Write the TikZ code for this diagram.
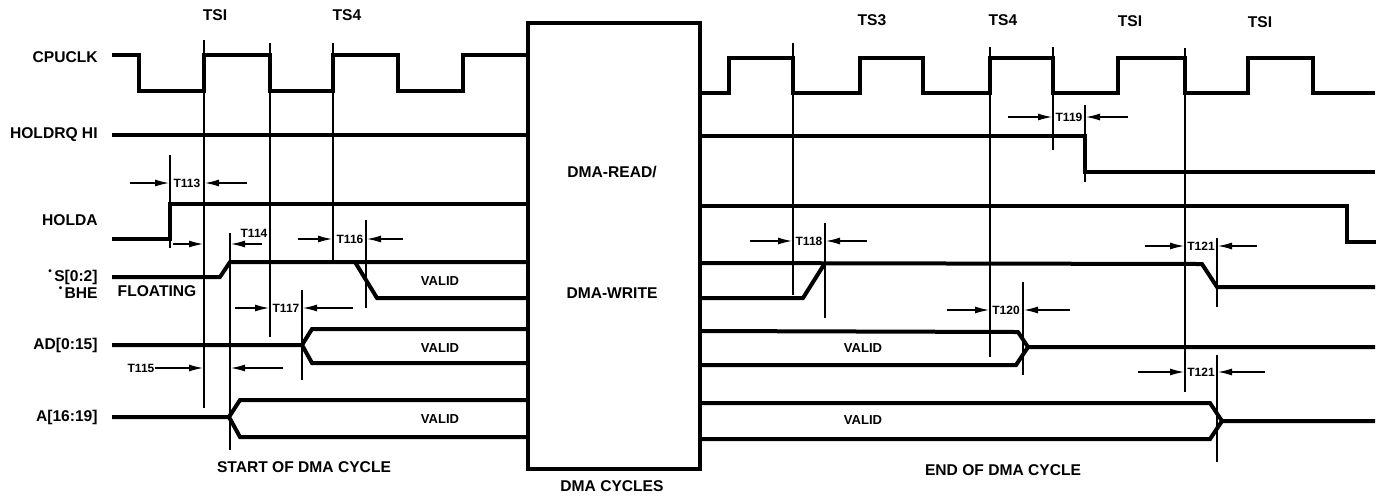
\documentclass[tikz,border=0pt]{standalone}
\usepackage{fontspec}
\setmainfont{Liberation Sans}
\usetikzlibrary{arrows.meta}

\begin{document}
\begin{tikzpicture}[x=0.5pt,y=-0.5pt,
  sig/.style={line width=2pt,line join=miter},
  tick/.style={line width=0.6pt},
  dim/.style={line width=0.6pt,-{Latex[length=7pt,width=3.5pt]}},
  sname/.style={font=\fontsize{7.8}{8}\selectfont\bfseries,anchor=east,inner sep=0pt},
  big/.style={font=\fontsize{7.8}{8}\selectfont\bfseries,inner sep=0pt},
  tlab/.style={font=\fontsize{6}{6}\selectfont\bfseries,inner sep=0pt},
  val/.style={font=\fontsize{6.5}{7}\selectfont\bfseries,inner sep=0pt}]
\useasboundingbox (0,0) rectangle (1378,495);
\path (98,57) node(lclk)[sname]{CPUCLK}
(98,135) node(lhrq)[sname]{HOLDRQ HI}
(98,220) node(lhda)[sname]{HOLDA}
(98,277) node(ls)[sname]{\raisebox{.45em}{\tiny\textbullet}\kern1.2pt S[0:2]}
(98,293) node(lbhe)[sname]{\raisebox{.45em}{\tiny\textbullet}\kern1.2pt BHE}
(98,345) node(lad)[sname]{AD[0:15]}
(98,417) node(la)[sname]{A[16:19]}
(157,291) node(flt)[big]{FLOATING}
(215,15) node(ts1a)[big]{TSI}
(347,15) node(ts4a)[big]{TS4}
(872,20) node(ts3b)[big]{TS3}
(1003,20) node(ts4b)[big]{TS4}
(1130,21) node(ts1b)[big]{TSI}
(1260,22) node(ts1c)[big]{TSI}
(614,246) node(dma)[draw,line width=2pt,minimum width=86pt,minimum height=223pt]{}
(612,172) node(rd)[big]{DMA-READ/}
(612,293) node(wr)[big]{DMA-WRITE}
(612,486) node(cyc)[big]{DMA CYCLES}
(304,467) node(start)[big]{START OF DMA CYCLE}
(1003,470) node(end)[big]{END OF DMA CYCLE}
(440,281) node(v1)[val]{VALID}
(440,348) node(v2)[val]{VALID}
(440,419) node(v3)[val]{VALID}
(863,348) node(v4)[val]{VALID}
(863,420) node(v5)[val]{VALID};
% signals before the DMA cycles
\draw[sig] (112,55) -| (139,91) -| (204,55) -| (270,91) -| (333,55) -| (398,91) -| (463,55) -- (dma.west |- 0,55);
\draw[sig] (112,135) -- (dma.west |- 0,135);
\draw[sig] (112,239) -| (170,204) -- (dma.west |- 0,204);
\draw[sig] (112,277) -- (220,277) -- (230,262) -- (dma.west |- 0,262);
\draw[sig] (355,262) -- (377,298) -- (dma.west |- 0,298);
\draw[sig] (112,345) -- (302,345) -- (312,329) -- (dma.west |- 0,329);
\draw[sig] (302,345) -- (312,363) -- (dma.west |- 0,363);
\draw[sig] (112,417) -- (229,417) -- (240,400) -- (dma.west |- 0,400);
\draw[sig] (229,417) -- (240,437) -- (dma.west |- 0,437);
% signals after the DMA cycles
\draw[sig] (dma.east |- 0,93) -| (729,58) -| (793,93) -| (860,58) -| (923,93) -| (990,58) -| (1053,93) -| (1118,58) -| (1185,93) -| (1248,58) -| (1313,93) -- (1375,93);
\draw[sig] (dma.east |- 0,136) -| (1085,172) -- (1375,172);
\draw[sig] (dma.east |- 0,206) -| (1347,242) -- (1376,242);
\draw[sig] (dma.east |- 0,263) -- (1202,264) -- (1217,287) -- (1375,287);
\draw[sig] (dma.east |- 0,298) -- (803,298) -- (825,263);
\draw[sig] (dma.east |- 0,331) -- (1018,332) -- (1028,347) -- (1375,347);
\draw[sig] (dma.east |- 0,365) -- (1016,365) -- (1028,347);
\draw[sig] (dma.east |- 0,403) -- (1210,403) -- (1222,421) -- (1375,421);
\draw[sig] (dma.east |- 0,439) -- (1210,439) -- (1222,421);
% reference lines
\draw[tick] (170,155) -- (170,248) (204,40) -- (204,408) (270,43) -- (270,337)
 (230,233) -- (230,450) (333,43) -- (333,260) (366,220) -- (366,308) (302,290) -- (302,380);
\draw[tick] (793,43) -- (793,295) (825,223) -- (825,318) (990,47) -- (990,357)
 (1053,47) -- (1053,150) (1085,105) -- (1085,182) (1185,48) -- (1185,392)
 (1023,282) -- (1023,375) (1217,238) -- (1217,307) (1217,355) -- (1217,462);
% timing marks
\path (187,183) node(t113)[tlab]{T113}
(254,233) node(t114)[tlab]{T114}
(141,368) node(t115)[tlab]{T115}
(350,239) node(t116)[tlab]{T116}
(286,308) node(t117)[tlab]{T117}
(809,241) node(t118)[tlab]{T118}
(1069,117) node(t119)[tlab]{T119}
(1006,310) node(t120)[tlab]{T120}
(1201,246) node(t121a)[tlab]{T121}
(1201,372) node(t121b)[tlab]{T121};
\draw[dim] (130,183) -- (169,183);
\draw[dim] (247,183) -- (205,183);
\draw[dim] (173,244) -- (203,244);
\draw[dim] (262,244) -- (231,244);
\draw[dim] (t115.east) -- (203,368);
\draw[dim] (283,368) -- (231,368);
\draw[dim] (298,239) -- (332,239);
\draw[dim] (403,239) -- (367,239);
\draw[dim] (235,308) -- (269,308);
\draw[dim] (353,308) -- (303,308);
\draw[dim] (750,241) -- (792,241);
\draw[dim] (867,241) -- (826,241);
\draw[dim] (1008,117) -- (1052,117);
\draw[dim] (1128,117) -- (1086,117);
\draw[dim] (947,310) -- (989,310);
\draw[dim] (1070,310) -- (1024,310);
\draw[dim] (1145,246) -- (1184,246);
\draw[dim] (1257,246) -- (1218,246);
\draw[dim] (1138,372) -- (1184,372);
\draw[dim] (1265,372) -- (1218,372);
\end{tikzpicture}
\end{document}
